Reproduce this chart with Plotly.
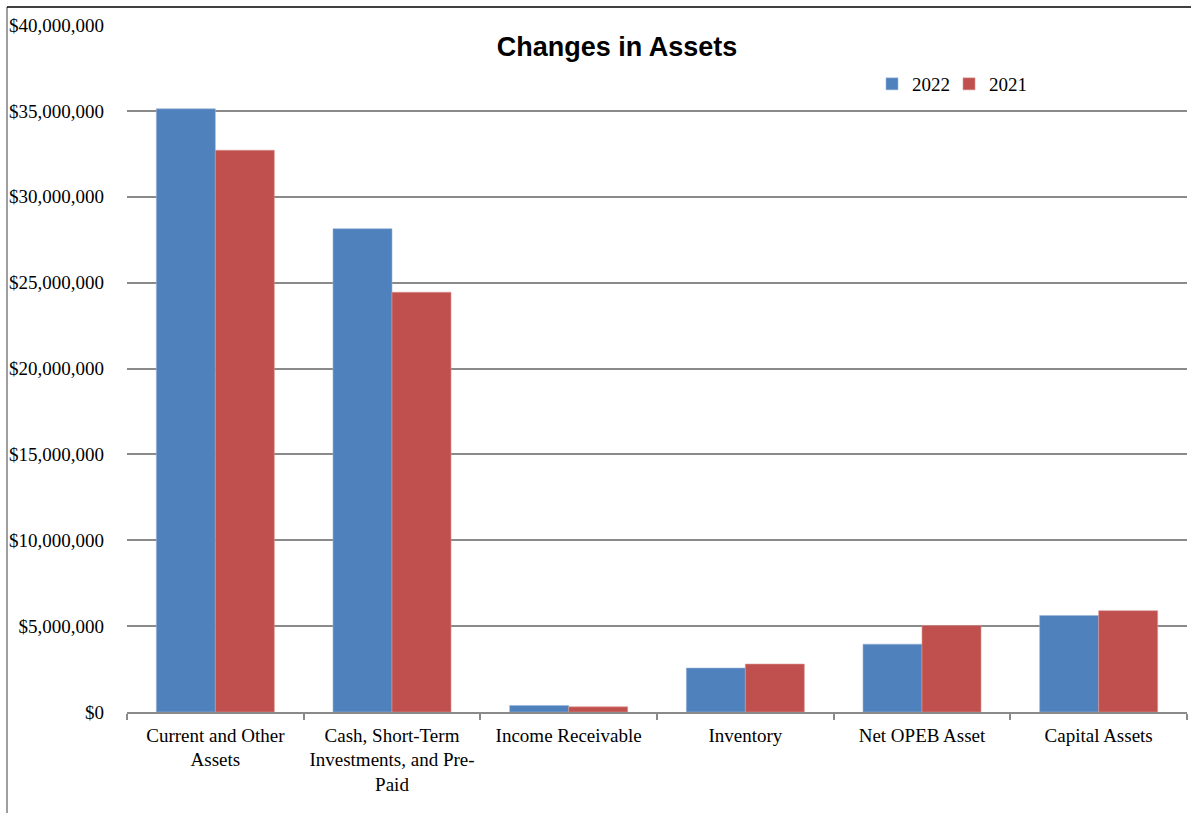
import plotly.graph_objects as go

categories = [
    "Current and Other<br>Assets",
    "Cash, Short-Term<br>Investments, and Pre-<br>Paid",
    "Income Receivable",
    "Inventory",
    "Net OPEB Asset",
    "Capital Assets",
]
values_2022 = [35120000, 28140000, 380000, 2560000, 3950000, 5620000]
values_2021 = [32710000, 24440000, 300000, 2790000, 5040000, 5900000]
y_ticks = [0, 5000000, 10000000, 15000000, 20000000, 25000000, 30000000, 35000000, 40000000]
y_tick_labels = ["$" + format(v, ",") for v in y_ticks]

W, H = 1191, 813
L, R, T, B = 127, 4, 25, 101
pw, ph = W - L - R, H - T - B

def px_x(x):
    return (x - L) / pw

def px_y(y):
    return (H - B - y) / ph

serif = "Liberation Serif, Times New Roman, serif"

fig = go.Figure()
fig.add_trace(go.Bar(name="2022", x=categories, y=values_2022,
                     marker=dict(color="#4F81BD", line=dict(color="#9bb5d8", width=0.6))))
fig.add_trace(go.Bar(name="2021", x=categories, y=values_2021,
                     marker=dict(color="#C0504D", line=dict(color="#d99593", width=0.6))))

fig.update_layout(
    width=W, height=H,
    margin=dict(l=L, r=R, t=T, b=B, pad=0),
    paper_bgcolor="white", plot_bgcolor="white",
    barmode="group", bargap=0.332, bargroupgap=0,
    font=dict(family=serif, size=19, color="black"),
    title=dict(text="<b>Changes in Assets</b>", x=px_x(617), xref="paper",
               y=1 - 47 / H, yref="container", xanchor="center", yanchor="middle",
               font=dict(family="Liberation Sans, Arial, sans-serif", size=27, color="black")),
    legend=dict(orientation="h", x=px_x(872), y=px_y(84), xanchor="left", yanchor="middle",
                font=dict(family=serif, size=19), itemwidth=30, bgcolor="rgba(0,0,0,0)",
                traceorder="normal", entrywidth=32, tracegroupgap=0),
    showlegend=True,
)

fig.update_yaxes(
    range=[0, 40000000], tickvals=y_ticks, ticktext=y_tick_labels,
    showgrid=True, gridcolor="#8a8a8a", gridwidth=1.6,
    showline=False, zeroline=False, ticks="", ticklabelstandoff=22,
    tickfont=dict(family=serif, size=19, color="black"),
)
fig.update_xaxes(
    showline=True, linecolor="#8a8a8a", linewidth=1.6,
    ticks="outside", ticklen=6, tickcolor="#8a8a8a", tickwidth=1.6,
    tickson="boundaries", ticklabelstandoff=5,
    tickfont=dict(family=serif, size=19, color="black"),
)

# chart outer border (left and top visible)
fig.add_shape(type="line", xref="paper", yref="paper",
              x0=px_x(7), x1=px_x(7), y0=px_y(7), y1=px_y(H + 5),
              line=dict(color="#7f7f7f", width=1.5))
fig.add_shape(type="line", xref="paper", yref="paper",
              x0=px_x(7), x1=px_x(W + 5), y0=px_y(7), y1=px_y(7),
              line=dict(color="black", width=1.5))

fig.write_html("out.html", config={"displayModeBar": False},
               post_script="document.body.style.margin='0';document.body.style.overflow='hidden';")
